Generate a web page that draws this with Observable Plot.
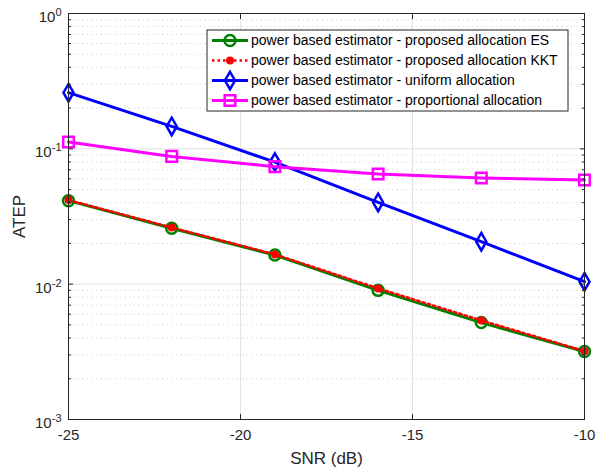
<!DOCTYPE html>
<html>
<head>
<meta charset="utf-8">
<script src="https://cdn.jsdelivr.net/npm/d3@7"></script>
<script src="https://cdn.jsdelivr.net/npm/@observablehq/plot@0.6"></script>
<style>
  html, body { margin: 0; padding: 0; background: #fff; }
  #chart { position: relative; width: 595px; height: 470px; }
</style>
</head>
<body>
<div id="chart"></div>
<script>
// ---- data ----
const snr = [-25, -22, -19, -16, -13, -10];
const seriesNames = [
  "power based estimator - proposed allocation ES",
  "power based estimator - proposed allocation KKT",
  "power based estimator - uniform allocation",
  "power based estimator - proportional allocation"
];
const esValues = [0.0414, 0.0259, 0.0164, 0.0090, 0.0052, 0.00318];
const kktValues = [0.0418, 0.0262, 0.0166, 0.0093, 0.0054, 0.00320];
const uniformValues = [0.260, 0.1465, 0.0798, 0.0402, 0.0206, 0.01044];
const proportionalValues = [0.1123, 0.0879, 0.0738, 0.0652, 0.0609, 0.0589];
const xTicks = [-25, -20, -15, -10];
const xGrid = [-20, -15];
const yMajor = [1e-3, 1e-2, 1e-1, 1];
const yGridMajor = [1e-2, 1e-1];
const yMinor = [];
for (const d of [1e-3, 1e-2, 1e-1]) for (let m = 2; m <= 9; m++) yMinor.push(+(m * d).toPrecision(3));

const colors = ["#008000", "#ff0000", "#0000ff", "#ff00ff"];

const rows = (vals, s) => snr.map((x, i) => ({x, y: vals[i], s}));
const es = rows(esValues, seriesNames[0]);
const kkt = rows(kktValues, seriesNames[1]);
const uni = rows(uniformValues, seriesNames[2]);
const prop = rows(proportionalValues, seriesNames[3]);

const font = "'Liberation Sans', Arial, Helvetica, sans-serif";
const blank = () => "";

const plot = Plot.plot({
  width: 595,
  height: 470,
  marginLeft: 68,
  marginRight: 11,
  marginTop: 13,
  marginBottom: 51,
  style: {fontFamily: font, fontSize: "15px", color: "#262626", background: "#fff", overflow: "visible"},
  x: {domain: [-25, -10]},
  y: {type: "log", domain: [1e-3, 1]},
  marks: [
    Plot.ruleY(yMinor, {stroke: "#c8c8c8", strokeDasharray: "1,3.7", strokeWidth: 1}),
    Plot.ruleY(yGridMajor, {stroke: "#e2e2e2", strokeWidth: 1}),
    Plot.ruleX(xGrid, {stroke: "#e2e2e2", strokeWidth: 1}),
    // uniform
    Plot.line(uni, {x: "x", y: "y", stroke: colors[2], strokeWidth: 3}),
    Plot.dot(uni, {x: "x", y: "y", symbol: "diamond", r: 5.3, stroke: colors[2], strokeWidth: 2.5, fill: "none"}),
    // proportional
    Plot.line(prop, {x: "x", y: "y", stroke: colors[3], strokeWidth: 3}),
    Plot.dot(prop, {x: "x", y: "y", symbol: "square", r: 6.0, stroke: colors[3], strokeWidth: 2.5, fill: "none"}),
    // ES
    Plot.line(es, {x: "x", y: "y", stroke: colors[0], strokeWidth: 3}),
    Plot.dot(es, {x: "x", y: "y", symbol: "circle", r: 5.5, stroke: colors[0], strokeWidth: 2.5, fill: "none"}),
    // KKT
    Plot.line(kkt, {x: "x", y: "y", stroke: colors[1], strokeWidth: 2.5, strokeDasharray: "2.5,3"}),
    Plot.dot(kkt, {x: "x", y: "y", symbol: "circle", r: 4, fill: colors[1], stroke: "none"}),
    Plot.frame({stroke: "#262626", strokeWidth: 1}),
    Plot.axisX({ticks: xTicks, tickSize: -5, tickPadding: 15, tickFormat: d => String(d), label: "SNR (dB)", labelAnchor: "center", labelArrow: "none", labelOffset: 44}),
    Plot.axisX({anchor: "top", ticks: xTicks, tickSize: -5, tickFormat: blank, label: null}),
    Plot.axisY({ticks: yMajor, tickSize: -5, tickPadding: 12, tickFormat: d => "10^" + Math.round(Math.log10(d)), label: "ATEP", labelAnchor: "center", labelArrow: "none", labelOffset: 56}),
    Plot.axisY({ticks: yMinor, tickSize: -3, tickFormat: blank, label: null}),
    Plot.axisY({anchor: "right", ticks: yMajor, tickSize: -5, tickFormat: blank, label: null}),
    Plot.axisY({anchor: "right", ticks: yMinor, tickSize: -3, tickFormat: blank, label: null})
  ]
});

document.getElementById("chart").appendChild(plot);
const svg = d3.select(plot);

// superscript exponents on y tick labels
svg.selectAll('[aria-label="y-axis tick label"] text').each(function() {
  const t = d3.select(this);
  const s = t.text();
  if (!s.startsWith("10^")) return;
  const e = s.slice(3);
  t.text(null);
  t.append("tspan").attr("dy", "0.25em").text("10");
  t.append("tspan").attr("dy", "-0.55em").attr("font-size", "11px").text(e);
});
// axis labels bigger
svg.selectAll('[aria-label="x-axis label"] text, [aria-label="y-axis label"] text').attr("font-size", "17px");

// legend
const lg = svg.append("g").attr("transform", "translate(207,30)")
  .attr("font-family", font).attr("font-size", "14px").attr("text-anchor", "start");
lg.append("rect").attr("width", 361).attr("height", 81).attr("fill", "#fff").attr("stroke", "#262626").attr("stroke-width", 1);
const legendSpec = [
  {name: seriesNames[0], color: colors[0], dash: null, lw: 3, sym: d3.symbolCircle, r: 5.5, fill: false},
  {name: seriesNames[1], color: colors[1], dash: "2.5,3", lw: 2.5, sym: d3.symbolCircle, r: 4, fill: true},
  {name: seriesNames[2], color: colors[2], dash: null, lw: 3, sym: d3.symbolDiamond, r: 5.3, fill: false},
  {name: seriesNames[3], color: colors[3], dash: null, lw: 3, sym: d3.symbolSquare, r: 6.0, fill: false}
];
legendSpec.forEach((d, i) => {
  const y = 10.5 + i * 20;
  const g = lg.append("g").attr("transform", `translate(0,${y})`);
  g.append("line").attr("x1", 5).attr("x2", 41).attr("y1", 0).attr("y2", 0)
    .attr("stroke", d.color).attr("stroke-width", d.lw).attr("stroke-dasharray", d.dash);
  g.append("path").attr("transform", "translate(23,0)")
    .attr("d", d3.symbol(d.sym, Math.PI * d.r * d.r)())
    .attr("fill", d.fill ? d.color : "none")
    .attr("stroke", d.fill ? "none" : d.color).attr("stroke-width", 2.5);
  g.append("text").attr("x", 44).attr("y", 0).attr("dy", "0.35em").attr("fill", "#000").attr("text-anchor", "start").text(d.name);
});
</script>
</body>
</html>
